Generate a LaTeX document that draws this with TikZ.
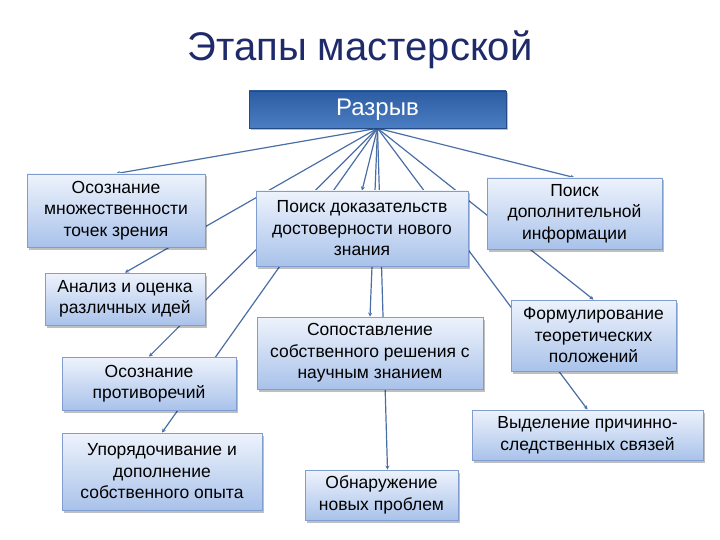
\documentclass[tikz,border=0pt]{standalone}
\usepackage{fontspec}
\setmainfont{Liberation Sans}
\usetikzlibrary{shadows,arrows.meta}
\pgfdeclarelayer{back}
\pgfdeclarelayer{bg}
\pgfsetlayers{back,bg,main}
\definecolor{titlecol}{HTML}{1F2A6B}
\definecolor{linecol}{HTML}{4A6FA5}
\definecolor{boxtop}{HTML}{EEF3FC}
\definecolor{boxbot}{HTML}{A9C2EA}
\definecolor{boxedge}{HTML}{7F9DCF}
\definecolor{gaptop}{HTML}{2C5DA3}
\definecolor{gapbot}{HTML}{4B7DC3}
\tikzset{
  box/.style={draw=boxedge, line width=0.8pt, top color=boxtop, bottom color=boxbot,
    align=center, inner sep=0pt, text=black,
    font=\fontsize{17.5}{21.5}\selectfont,
    drop shadow={shadow xshift=2pt, shadow yshift=-2.5pt, fill=black, opacity=0.25}},
  conn/.style={draw=linecol, line width=1.2pt, -{Stealth[length=4pt,width=4pt]}},
}
\begin{document}
\begin{tikzpicture}[x=1pt,y=-1pt]
\useasboundingbox (0,0) rectangle (720,540);
\begin{pgfonlayer}{back}
\fill[white] (0,0) rectangle (720,540);
\end{pgfonlayer}
\node[text=titlecol, font=\fontsize{40}{42}\selectfont] (title) at (360,50) {Этапы мастерской};
\node[draw=gaptop!80!black, line width=0.6pt, top color=gaptop, bottom color=gapbot, text=white,
  font=\fontsize{24}{28}\selectfont, minimum width=257pt, minimum height=37pt, inner sep=0pt,
  drop shadow={shadow xshift=2pt, shadow yshift=-2.5pt, fill=black, opacity=0.25}]
  (gap) at (377.5,109.5) {Разрыв};
\node[box, minimum width=178pt, minimum height=73pt] (om) at (116,210.5) {Осознание\\множественности\\точек зрения};
\node[box, minimum width=212pt, minimum height=75pt] (pd) at (362,228.5) {Поиск доказательств\\достоверности нового\\знания};
\node[box, minimum width=175pt, minimum height=71pt] (pi) at (574.5,213.5) {Поиск\\дополнительной\\информации};
\node[box, minimum width=160pt, minimum height=52pt] (an) at (125,299) {Анализ и оценка\\различных идей};
\node[box, minimum width=226pt, minimum height=72pt] (sp) at (370,353) {Сопоставление\\собственного решения с\\научным знанием};
\node[box, minimum width=165pt, minimum height=71pt] (ft) at (593.5,335.5) {Формулирование\\теоретических\\положений};
\node[box, minimum width=174pt, minimum height=53pt] (op) at (149,383.5) {Осознание\\противоречий};
\node[box, minimum width=231pt, minimum height=50pt] (vy) at (587.5,435) {Выделение причинно-\\следственных связей};
\node[box, minimum width=200pt, minimum height=77pt] (up) at (162,471.5) {Упорядочивание и\\дополнение\\собственного опыта};
\node[box, minimum width=153pt, minimum height=50pt] (on) at (381.5,495) {Обнаружение\\новых проблем};
\begin{pgfonlayer}{bg}
\foreach \t in {om,an,op,up,pd,sp,vy,ft,pi}
  \draw[conn] (gap.south) -- (\t.north);
\draw[conn] (gap.south) -- ([xshift=6pt]on.north);
\end{pgfonlayer}
\end{tikzpicture}
\end{document}
